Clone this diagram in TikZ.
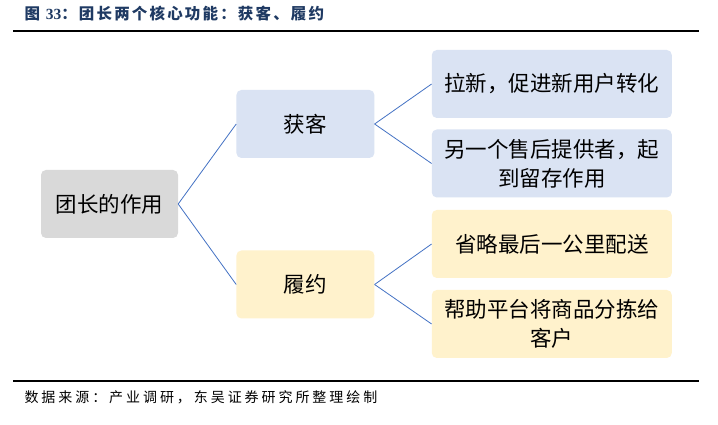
\documentclass[tikz,border=0pt]{standalone}
\usepackage{fontspec}
\usepackage{tikz}
\usetikzlibrary{positioning}
\setmainfont{Noto Sans CJK SC}
\newfontfamily\titlefont[LetterSpace=14]{Noto Sans CJK SC}
\newfontfamily\notefont[LetterSpace=21]{Noto Sans CJK SC}
\newfontfamily\numfont{Liberation Serif}
\definecolor{navy}{HTML}{1F3A63}
\definecolor{linkblue}{HTML}{4472C4}
\definecolor{rootgray}{HTML}{D9D9D9}
\definecolor{paleblue}{HTML}{DAE3F3}
\definecolor{paleyellow}{HTML}{FFF2CC}
\begin{document}
\begin{tikzpicture}[x=1pt,y=1pt,box/.style={rounded corners=5pt,align=center,inner sep=0pt,font=\fontsize{21.5}{29}\selectfont},root/.style={box,fill=rootgray,minimum width=137pt,minimum height=68pt},mid/.style={box,minimum width=138pt,minimum height=68pt},leaf/.style={box,minimum width=240pt,minimum height=68pt},link/.style={draw=linkblue,line width=0.8pt}]
\useasboundingbox[fill=white] (0,0) rectangle (718,425);
\node[anchor=west,text=navy,font=\titlefont\bfseries\fontsize{15.5}{17}\selectfont] (title) at (21,411) {图 {\numfont\bfseries 33}：团长两个核心功能：获客、履约};
\coordinate (topl) at (13,394);\coordinate (topr) at (699,394);
\draw[line width=1.3pt] (topl)--(topr);
\node[root] (role) at (109.5,221) {团长的作用};
\node[mid,fill=paleblue,right=58pt of role,yshift=80pt] (acq) {获客};
\node[mid,fill=paleyellow,right=58pt of role,yshift=-80.5pt] (fulfil) {履约};
\node[leaf,fill=paleblue,right=57pt of acq,yshift=40pt] (newuser) {拉新，促进新用户转化};
\node[leaf,fill=paleblue,right=57pt of acq,yshift=-39.5pt] (aftersale) {另一个售后提供者，起\\到留存作用};
\node[leaf,fill=paleyellow,right=57pt of fulfil,yshift=40.5pt] (lastmile) {省略最后一公里配送};
\node[leaf,fill=paleyellow,right=57pt of fulfil,yshift=-39.5pt] (sorting) {帮助平台将商品分拣给\\客户};
\draw[link](role.east)--(acq.west);\draw[link](role.east)--(fulfil.west);\draw[link](acq.east)--(newuser.west);\draw[link](acq.east)--(aftersale.west);\draw[link](fulfil.east)--(lastmile.west);\draw[link](fulfil.east)--(sorting.west);
\coordinate (botl) at (13,44);\coordinate (botr) at (699,44);
\draw[line width=1.3pt] (botl)--(botr);
\node[anchor=west,font=\notefont\fontsize{14}{16}\selectfont] (source) at (21,28) {数据来源：产业调研，东吴证券研究所整理绘制};
\end{tikzpicture}
\end{document}
